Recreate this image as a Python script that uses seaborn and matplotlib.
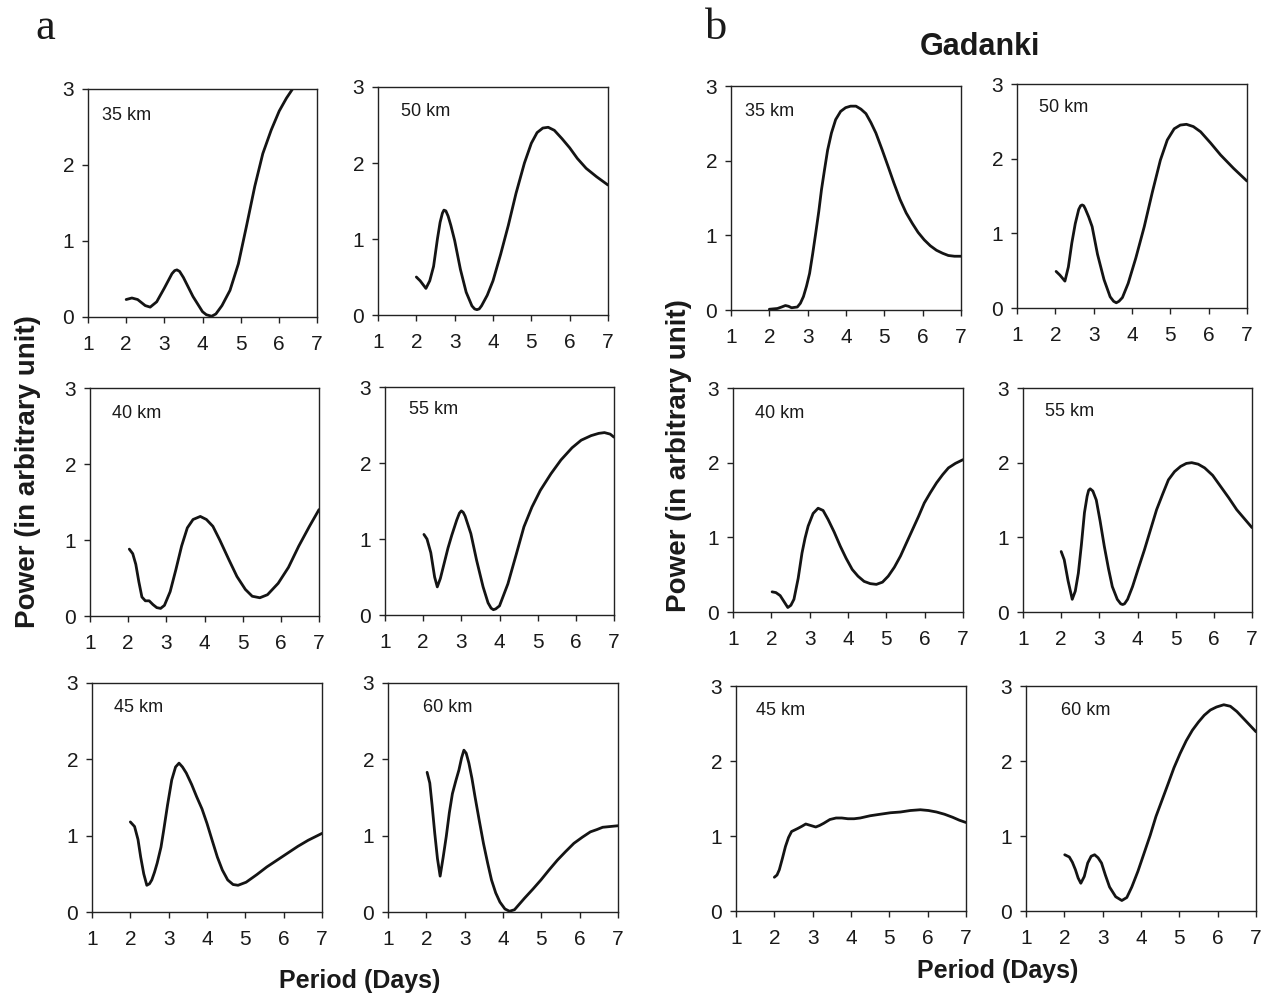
import matplotlib
matplotlib.use("Agg")
import matplotlib.pyplot as plt
import seaborn as sns
import pandas as pd

# ---------------- data ----------------
# Panel a
a35_x = [2.0, 2.15, 2.3, 2.5, 2.63, 2.8, 3.0, 3.2, 3.27, 3.33, 3.4, 3.5, 3.75, 4.0, 4.1, 4.24, 4.35,
         4.51, 4.72, 4.94, 5.15, 5.37, 5.58, 5.8, 6.01, 6.2, 6.36, 6.6, 7.0]
a35_y = [0.23, 0.25, 0.23, 0.15, 0.13, 0.2, 0.38, 0.57, 0.61, 0.62, 0.6, 0.52, 0.27, 0.07, 0.03, 0.01, 0.04,
         0.15, 0.35, 0.70, 1.19, 1.72, 2.15, 2.46, 2.71, 2.88, 3.0, 3.15, 3.35]

a50_x = [2.0, 2.1, 2.25, 2.35, 2.45, 2.55, 2.62, 2.68, 2.72, 2.77, 2.83, 2.9, 3.0, 3.15, 3.3, 3.45, 3.52,
         3.58, 3.64, 3.7, 3.85, 4.0, 4.2, 4.4, 4.6, 4.82, 5.0, 5.15, 5.3, 5.44, 5.6, 5.8, 6.0, 6.2, 6.43,
         6.7, 7.0]
a50_y = [0.50, 0.45, 0.35, 0.45, 0.64, 1.0, 1.22, 1.34, 1.38, 1.37, 1.3, 1.18, 0.98, 0.6, 0.3, 0.12, 0.08,
         0.07, 0.08, 0.12, 0.26, 0.45, 0.8, 1.18, 1.6, 2.0, 2.26, 2.4, 2.46, 2.47, 2.43, 2.32, 2.2, 2.06,
         1.93, 1.82, 1.71]

a40_x = [2.03, 2.12, 2.2, 2.28, 2.36, 2.45, 2.55, 2.65, 2.75, 2.85, 2.95, 3.1, 3.25, 3.4, 3.55, 3.7,
         3.89, 4.05, 4.22, 4.4, 4.64, 4.85, 5.07, 5.25, 5.45, 5.65, 5.93, 6.2, 6.47, 6.75, 7.0]
a40_y = [0.88, 0.82, 0.68, 0.45, 0.25, 0.2, 0.2, 0.15, 0.11, 0.10, 0.14, 0.32, 0.61, 0.92, 1.16, 1.27,
         1.31, 1.27, 1.18, 1.0, 0.74, 0.52, 0.35, 0.26, 0.24, 0.28, 0.43, 0.64, 0.92, 1.18, 1.40]

a55_x = [2.02, 2.1, 2.2, 2.3, 2.37, 2.45, 2.55, 2.65, 2.75, 2.88, 2.95, 3.0, 3.05, 3.1, 3.25, 3.4, 3.57,
         3.7, 3.78, 3.84, 3.9, 4.0, 4.22, 4.44, 4.64, 4.85, 5.07, 5.35, 5.61, 5.9, 6.14, 6.4, 6.6, 6.75,
         6.9, 7.0]
a55_y = [1.06, 1.0, 0.82, 0.5, 0.37, 0.48, 0.68, 0.88, 1.05, 1.25, 1.34, 1.37, 1.35, 1.3, 1.07, 0.72,
         0.37, 0.16, 0.09, 0.07, 0.08, 0.12, 0.41, 0.8, 1.16, 1.42, 1.64, 1.86, 2.04, 2.2, 2.30, 2.36,
         2.39, 2.4, 2.38, 2.34]

a45_x = [2.0, 2.11, 2.2, 2.27, 2.35, 2.43, 2.5, 2.56, 2.63, 2.7, 2.8, 2.87, 2.97, 3.08, 3.18, 3.27, 3.36,
         3.46, 3.6, 3.73, 3.87, 4.0, 4.14, 4.27, 4.4, 4.54, 4.68, 4.81, 5.02, 5.3, 5.56, 5.83, 6.1, 6.37,
         6.64, 7.0]
a45_y = [1.18, 1.12, 0.95, 0.72, 0.5, 0.35, 0.37, 0.42, 0.52, 0.64, 0.85, 1.07, 1.4, 1.73, 1.9, 1.95, 1.9,
         1.82, 1.67, 1.51, 1.35, 1.16, 0.93, 0.72, 0.55, 0.42, 0.36, 0.35, 0.39, 0.49, 0.59, 0.68, 0.77, 0.86,
         0.94, 1.03]

a60_x = [2.02, 2.09, 2.15, 2.22, 2.29, 2.36, 2.44, 2.52, 2.6, 2.68, 2.77, 2.85, 2.92, 2.98, 3.04, 3.11,
         3.19, 3.27, 3.38, 3.49, 3.6, 3.7, 3.81, 3.92, 4.05, 4.17, 4.3, 4.56, 4.78, 4.99, 5.2, 5.42, 5.63,
         5.85, 6.07, 6.28, 6.45, 6.6, 6.8, 7.0]
a60_y = [1.83, 1.69, 1.4, 1.03, 0.7, 0.47, 0.72, 0.99, 1.3, 1.55, 1.72, 1.86, 2.02, 2.12, 2.08, 1.95,
         1.75, 1.51, 1.2, 0.9, 0.64, 0.42, 0.25, 0.13, 0.04, 0.01, 0.03, 0.18, 0.3, 0.42, 0.55, 0.68, 0.79,
         0.9, 0.98, 1.05, 1.08, 1.11, 1.12, 1.13]

# Panel b (Gadanki)
b35_x = [2.0, 2.21, 2.32, 2.42, 2.5, 2.58, 2.73, 2.81, 2.89, 2.97, 3.05, 3.13, 3.21, 3.29, 3.36, 3.44,
         3.52, 3.62, 3.73, 3.86, 3.99, 4.12, 4.26, 4.39, 4.52, 4.65, 4.78, 4.94, 5.1, 5.25, 5.41, 5.57,
         5.73, 5.88, 6.04, 6.2, 6.36, 6.52, 6.67, 6.83, 7.0]
b35_y = [0.01, 0.02, 0.04, 0.06, 0.05, 0.03, 0.04, 0.09, 0.18, 0.32, 0.49, 0.75, 1.03, 1.32, 1.61, 1.88,
         2.14, 2.37, 2.55, 2.66, 2.71, 2.73, 2.73, 2.69, 2.63, 2.51, 2.37, 2.15, 1.92, 1.7, 1.48, 1.3,
         1.16, 1.04, 0.94, 0.86, 0.8, 0.76, 0.73, 0.72, 0.72]

b50_x = [2.02, 2.12, 2.25, 2.34, 2.43, 2.52, 2.61, 2.66, 2.7, 2.74, 2.78, 2.87, 2.96, 3.1, 3.27, 3.43,
         3.52, 3.59, 3.66, 3.75, 3.9, 4.1, 4.32, 4.53, 4.74, 4.92, 5.1, 5.26, 5.42, 5.6, 5.79, 6.05, 6.31,
         6.65, 7.0]
b50_y = [0.49, 0.44, 0.36, 0.55, 0.87, 1.13, 1.32, 1.37, 1.38, 1.37, 1.33, 1.22, 1.09, 0.72, 0.38, 0.15,
         0.09, 0.07, 0.09, 0.14, 0.33, 0.67, 1.09, 1.55, 1.98, 2.25, 2.40, 2.45, 2.46, 2.43, 2.36, 2.21,
         2.05, 1.87, 1.70]

b40_x = [2.02, 2.12, 2.23, 2.33, 2.43, 2.51, 2.59, 2.7, 2.8, 2.88, 2.96, 3.09, 3.22, 3.35, 3.48, 3.64,
         3.8, 3.95, 4.11, 4.26, 4.42, 4.58, 4.74, 4.9, 5.05, 5.21, 5.37, 5.52, 5.68, 5.84, 5.99, 6.15,
         6.31, 6.47, 6.62, 6.8, 7.0]
b40_y = [0.27, 0.26, 0.22, 0.14, 0.06, 0.09, 0.17, 0.45, 0.79, 0.99, 1.15, 1.32, 1.39, 1.36, 1.24, 1.07,
         0.88, 0.72, 0.57, 0.48, 0.41, 0.38, 0.37, 0.4, 0.48, 0.6, 0.75, 0.92, 1.1, 1.28, 1.46, 1.6,
         1.73, 1.84, 1.93, 1.99, 2.04]

b55_x = [2.0, 2.08, 2.18, 2.29, 2.37, 2.45, 2.53, 2.61, 2.68, 2.72, 2.76, 2.83, 2.92, 3.02, 3.13, 3.24,
         3.34, 3.47, 3.56, 3.61, 3.66, 3.74, 3.87, 4.02, 4.18, 4.34, 4.5, 4.66, 4.81, 4.97, 5.13, 5.28,
         5.42, 5.59, 5.76, 5.97, 6.18, 6.39, 6.6, 6.8, 7.0]
b55_y = [0.81, 0.7, 0.42, 0.17, 0.28, 0.52, 0.9, 1.33, 1.55, 1.63, 1.65, 1.62, 1.50, 1.22, 0.88, 0.58,
         0.34, 0.17, 0.11, 0.10, 0.11, 0.17, 0.34, 0.58, 0.83, 1.1, 1.37, 1.58, 1.77, 1.88, 1.95, 1.99,
         2.0, 1.98, 1.93, 1.83, 1.68, 1.53, 1.37, 1.25, 1.13]

b45_x = [2.0, 2.07, 2.13, 2.21, 2.29, 2.37, 2.45, 2.53, 2.61, 2.72, 2.82, 2.95, 3.08, 3.18, 3.29, 3.45,
         3.61, 3.76, 3.92, 4.08, 4.24, 4.5, 4.76, 5.03, 5.29, 5.55, 5.81, 6.02, 6.23, 6.44, 6.65, 6.83, 7.0]
b45_y = [0.45, 0.48, 0.55, 0.7, 0.86, 0.98, 1.06, 1.08, 1.10, 1.13, 1.16, 1.14, 1.12, 1.14, 1.17, 1.22,
         1.24, 1.24, 1.23, 1.23, 1.24, 1.27, 1.29, 1.31, 1.32, 1.34, 1.35, 1.34, 1.32, 1.29, 1.25, 1.21, 1.18]

b60_x = [2.01, 2.13, 2.21, 2.29, 2.36, 2.43, 2.52, 2.61, 2.7, 2.79, 2.88, 2.97, 3.07, 3.18, 3.34, 3.5,
         3.63, 3.76, 3.92, 4.08, 4.24, 4.39, 4.55, 4.71, 4.86, 5.02, 5.18, 5.34, 5.5, 5.65, 5.81, 5.97,
         6.16, 6.33, 6.5, 6.76, 7.0]
b60_y = [0.75, 0.72, 0.65, 0.55, 0.44, 0.37, 0.46, 0.64, 0.73, 0.75, 0.71, 0.64, 0.48, 0.32, 0.19, 0.14,
         0.18, 0.32, 0.53, 0.77, 1.01, 1.26, 1.48, 1.70, 1.91, 2.10, 2.27, 2.41, 2.52, 2.61, 2.68, 2.72,
         2.75, 2.73, 2.66, 2.52, 2.39]

x_ticks = [1, 2, 3, 4, 5, 6, 7]
y_ticks = [0, 1, 2, 3]
x_label = "Period (Days)"
y_label = "Power (in arbitrary unit)"
site_title = "Gadanki"

series = {
    "a35": (a35_x, a35_y), "a50": (a50_x, a50_y),
    "a40": (a40_x, a40_y), "a55": (a55_x, a55_y),
    "a45": (a45_x, a45_y), "a60": (a60_x, a60_y),
    "b35": (b35_x, b35_y), "b50": (b50_x, b50_y),
    "b40": (b40_x, b40_y), "b55": (b55_x, b55_y),
    "b45": (b45_x, b45_y), "b60": (b60_x, b60_y),
}
label_of = {k: f"{k[1:]} km" for k in series}

# ---------------- layout (pixels: left, top, right, bottom) ----------------
W, H = 1265, 997
boxes = {
    "a35": (88, 89, 317, 317), "a50": (378, 87, 608, 315),
    "a40": (90, 388, 319, 616), "a55": (385, 387, 614, 615),
    "a45": (92, 683, 322, 912), "a60": (388, 683, 618, 912),
    "b35": (731, 86, 961, 310), "b50": (1017, 84, 1247, 308),
    "b40": (733, 388, 963, 612), "b55": (1023, 388, 1252, 612),
    "b45": (736, 686, 966, 911), "b60": (1026, 686, 1256, 911),
}
label_off = {
    "a35": (14, 26), "a50": (23, 25), "a40": (22, 26), "a55": (24, 22),
    "a45": (22, 24), "a60": (35, 24), "b35": (14, 25), "b50": (22, 23),
    "b40": (22, 25), "b55": (22, 23), "b45": (20, 24), "b60": (35, 24),
}

sns.set_theme(style="ticks")
plt.rcParams['font.family'] = ['Liberation Sans', 'DejaVu Sans']
plt.rcParams['text.color'] = '#1a1a1a'
plt.rcParams['xtick.color'] = '#1a1a1a'
plt.rcParams['ytick.color'] = '#1a1a1a'

fig = plt.figure(figsize=(W / 100, H / 100), dpi=100)
fig.patch.set_facecolor("white")

for key, (xs, ys) in series.items():
    l, t, r, b = boxes[key]
    ax = fig.add_axes([l / W, 1 - b / H, (r - l) / W, (b - t) / H])
    df = pd.DataFrame({"period": xs, "power": ys})
    sns.lineplot(data=df, x="period", y="power", ax=ax, color="#141414",
                 linewidth=2.0, sort=False, estimator=None)
    ax.set_xlim(1, 7)
    ax.set_ylim(0, 3)
    ax.set_xticks(x_ticks)
    ax.set_yticks(y_ticks)
    ax.set_xlabel("")
    ax.set_ylabel("")
    for sp in ax.spines.values():
        sp.set_visible(True)
        sp.set_linewidth(1.0)
        sp.set_color("#222222")
    ax.tick_params(axis="both", direction="out", length=4, width=1.0, labelsize=15,
                   color="#222222")
    ax.tick_params(axis="x", pad=9)
    ax.tick_params(axis="y", pad=6)
    ax.set_facecolor("white")
    ox, oy = label_off[key]
    ax.text(ox / (r - l), 1 - oy / (b - t), label_of[key], transform=ax.transAxes,
            ha="left", va="center", fontsize=13)

# panel letters
fig.text(45 / W, 1 - 28 / H, "a", fontsize=32, family=["Liberation Serif", "DejaVu Serif"],
         ha="center", va="center")
fig.text(716 / W, 1 - 28 / H, "b", fontsize=32, family=["Liberation Serif", "DejaVu Serif"],
         ha="center", va="center")
fig.text(980 / W, 1 - 47 / H, site_title, fontsize=22, fontweight="bold", ha="center", va="center")

# axis labels
fig.text(360 / W, 1 - 981 / H, x_label, fontsize=18, fontweight="bold", ha="center", va="center")
fig.text(998 / W, 1 - 971 / H, x_label, fontsize=18, fontweight="bold", ha="center", va="center")
fig.text(28 / W, 1 - 472 / H, y_label, fontsize=20, fontweight="bold", rotation=90,
         ha="center", va="center")
fig.text(679 / W, 1 - 456 / H, y_label, fontsize=20, fontweight="bold", rotation=90,
         ha="center", va="center")

fig.savefig("out.png", dpi=100, facecolor="white")
